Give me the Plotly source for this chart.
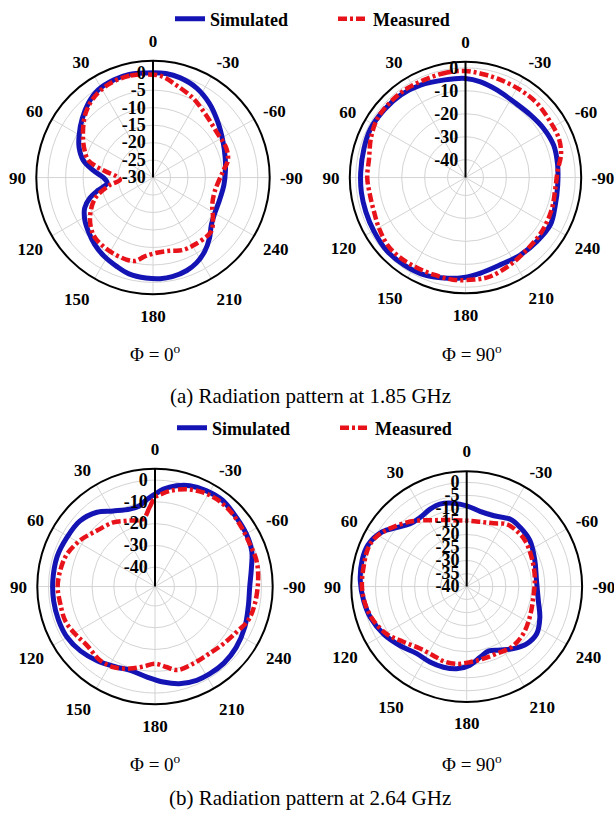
import plotly.graph_objects as go

W, H = 614, 816

# ---------------- data (theta in degrees CCW from top, gain in dB) ----------------
# (a) 1.85 GHz, Phi = 0
a0_sim_theta = [0, 13, 22, 32, 41, 50, 60, 68, 76, 83, 90, 97, 103, 108, 114, 122, 130, 139, 148, 158,
                166, 176, 184, 191, 200, 207, 215, 223, 231, 240, 251, 264, 275, 285, 297, 311, 323, 334, 345, 353]
a0_sim_db = [0.0, 0.3, 0.1, -0.4, -1.8, -3.6, -5.6, -7.2, -9.4, -12.7, -15.8, -16.8, -13.9, -11.0, -8.6, -7.0,
             -5.9, -4.6, -3.5, -2.5, -1.6, -1.2, -1.0, -1.1, -1.7, -2.6, -4.2, -6.3, -8.5, -9.6, -9.9, -9.6,
             -9.2, -8.6, -7.5, -5.5, -3.3, -1.5, -0.4, 0.0]
a0_mea_theta = [4, 13, 25, 37, 47, 57, 67, 75, 79, 83, 88, 94, 100, 110, 123, 134, 142, 152, 162, 168,
                174, 182, 193, 202, 212, 227, 236, 245, 257, 275, 283, 292, 306, 320, 333, 346, 355]
a0_mea_db = [-0.4, -0.1, -0.4, -1.6, -3.5, -6.1, -8.6, -10.8, -13.5, -16.6, -19.5, -20.5, -17.4, -12.3, -8.5,
             -6.3, -5.8, -5.5, -5.3, -5.6, -7.3, -8.4, -8.5, -7.6, -7.4, -7.3, -9.3, -11.3, -11.9, -9.9, -8.0,
             -7.4, -7.6, -6.5, -4.6, -2.7, -0.9]

# (a) 1.85 GHz, Phi = 90
a90_sim_theta = [0, 12, 26, 38, 50, 63, 74, 87, 98, 109, 120, 133, 145, 157, 170, 179, 189, 202, 215, 228,
                 241, 253, 265, 278, 290, 302, 314, 327, 340, 351]
a90_sim_db = [-4.6, -4.3, -3.0, -2.1, -1.7, -1.3, -1.8, -2.1, -2.0, -1.9, -1.6, -1.0, -1.3, -1.8, -3.3, -4.3,
              -5.7, -6.9, -6.5, -6.1, -5.5, -6.9, -7.5, -7.3, -6.9, -7.6, -8.5, -8.7, -7.3, -5.6]
a90_mea_theta = [0, 10, 21, 33, 45, 56, 67, 79, 90, 100, 110, 120, 131, 141, 152, 162, 173, 185, 194, 207,
                 220, 235, 250, 263, 274, 284, 293, 303, 316, 328, 342, 352]
a90_mea_db = [-1.4, -1.3, -1.6, -1.4, -1.4, -1.6, -3.1, -5.0, -5.0, -5.5, -5.3, -4.2, -2.9, -2.8, -3.2, -3.3,
              -3.0, -3.2, -3.4, -5.1, -6.5, -7.1, -7.8, -8.4, -7.6, -4.9, -3.7, -3.6, -2.9, -2.8, -2.5, -2.0]

# (b) 2.64 GHz, Phi = 0
b0_sim_theta = [0, 6, 11, 18, 29, 38, 49, 61, 73, 87, 98, 109, 120, 131, 142, 155, 163, 175, 185, 194,
                204, 212, 222, 233, 246, 258, 270, 281, 290, 300, 310, 322, 332, 341, 348, 355]
b0_sim_db = [-6.5, -9.1, -11.2, -11.5, -9.2, -5.6, -3.1, -2.6, -1.9, -1.9, -1.9, -2.0, -2.3, -3.7, -5.7, -8.0,
             -8.8, -7.2, -4.9, -2.9, -1.8, -1.6, -1.6, -2.3, -3.7, -5.1, -5.4, -3.8, -1.6, -0.5, 0.1, 1.4,
             1.0, 0.1, -1.6, -4.0]
b0_mea_theta = [0, 4, 10, 23, 33, 46, 58, 70, 80, 90, 100, 111, 121, 131, 143, 153, 163, 172, 180, 188,
                195, 206, 217, 229, 241, 250, 260, 273, 284, 294, 304, 315, 325, 333, 342, 351, 356]
b0_mea_db = [-8.0, -12.5, -17.4, -16.0, -13.8, -11.9, -8.6, -5.8, -4.8, -4.2, -4.7, -4.8, -6.3, -7.6, -6.7,
             -7.3, -9.5, -11.9, -13.5, -11.6, -9.2, -9.4, -9.4, -8.1, -6.0, -3.4, -2.4, -1.5, -0.8, -1.2,
             -0.8, 0.0, 0.2, -0.4, -1.9, -4.4, -6.3]

# (b) 2.64 GHz, Phi = 90
b90_sim_theta = [0, 9, 18, 25, 34, 42, 50, 57, 67, 76, 87, 98, 108, 120, 132, 143, 154, 164, 173, 182,
                 191, 199, 208, 217, 226, 236, 247, 259, 275, 291, 306, 318, 327, 339, 350]
b90_sim_db = [-9.0, -7.6, -6.7, -7.1, -8.0, -7.6, -4.8, -1.4, 1.1, 1.4, 0.9, -0.1, -1.2, -3.3, -5.9, -7.9,
              -7.8, -7.8, -8.2, -9.7, -12.5, -13.9, -12.4, -10.2, -8.2, -7.6, -9.5, -12.0, -13.1, -12.0,
              -10.0, -9.4, -9.2, -10.9, -10.7]
b90_mea_theta = [0, 14, 27, 35, 43, 53, 61, 68, 79, 90, 100, 110, 121, 131, 143, 154, 163, 173, 183, 193,
                 204, 217, 230, 244, 261, 278, 294, 308, 318, 327, 337, 348]
b90_mea_db = [-14.7, -13.7, -11.4, -9.0, -6.3, -3.0, -0.4, 0.6, 0.3, 0.2, -0.5, -1.9, -4.4, -7.7, -10.2,
              -10.6, -10.0, -10.1, -11.0, -11.6, -11.8, -11.1, -11.7, -13.1, -14.1, -13.6, -12.7, -11.5,
              -11.3, -11.5, -13.6, -14.6]

ang_vals = [0, 30, 60, 90, 120, 150, 180, 210, 240, 270, 300, 330]
ang_text = ["0", "30", "60", "90", "120", "150", "180", "210", "240", "-90", "-60", "-30"]

legend_names = ["Simulated", "Measured"]
captions_phi = ["\u03a6 = 0<sup>o</sup>", "\u03a6 = 90<sup>o</sup>"]
captions_main = ["(a) Radiation pattern at 1.85 GHz", "(b) Radiation pattern at 2.64 GHz"]

# ---------------- styling ----------------
BLUE = "#1414b4"
RED = "#e8121a"
SERIF = "Liberation Serif"

fig = go.Figure()


def closed(a):
    return list(a) + [a[0]]


panels = [
    ("polar", a0_sim_theta, a0_sim_db, a0_mea_theta, a0_mea_db, "legend", True),
    ("polar2", a90_sim_theta, a90_sim_db, a90_mea_theta, a90_mea_db, "legend", False),
    ("polar3", b0_sim_theta, b0_sim_db, b0_mea_theta, b0_mea_db, "legend2", True),
    ("polar4", b90_sim_theta, b90_sim_db, b90_mea_theta, b90_mea_db, "legend2", False),
]
for sp, st, sr, mt, mr, lg, show in panels:
    fig.add_trace(go.Scatterpolar(
        theta=closed(st), r=closed(sr), mode="lines", name=legend_names[0], subplot=sp,
        line=dict(color=BLUE, width=5, shape="spline", smoothing=1.0),
        showlegend=show, legend=lg))
    fig.add_trace(go.Scatterpolar(
        theta=closed(mt), r=closed(mr), mode="lines", name=legend_names[1], subplot=sp,
        line=dict(color=RED, width=4.5, dash="9px,3px,3px,3px", shape="spline", smoothing=1.0),
        showlegend=show, legend=lg))


def dom(cx, cy, r):
    return dict(x=[(cx - r) / W, (cx + r) / W], y=[1 - (cy + r) / H, 1 - (cy - r) / H])


def polar_layout(cx, cy, r, rng, rticks):
    return dict(
        domain=dom(cx, cy, r),
        bgcolor="white",
        angularaxis=dict(
            rotation=90, direction="counterclockwise",
            tickmode="array", tickvals=ang_vals, ticktext=ang_text,
            tickfont=dict(family=SERIF, size=17, color="black", weight="bold"),
            showline=True, linecolor="black", linewidth=2,
            showgrid=True, gridcolor="#d4d4d4", gridwidth=1,
            ticks="outside", ticklen=6, tickcolor="rgba(0,0,0,0)",
        ),
        radialaxis=dict(
            range=rng, angle=90, side="counterclockwise", tickangle=90,
            tickmode="array", tickvals=rticks, ticktext=[str(v) for v in rticks],
            tickfont=dict(family=SERIF, size=18, color="black", weight="bold"),
            showline=True, linecolor="black", linewidth=2,
            showgrid=True, gridcolor="#d4d4d4", gridwidth=1,
            ticks="",
        ),
    )


LEG_FONT = dict(family=SERIF, size=18, color="black", weight="bold")
fig.update_layout(
    width=W, height=H, margin=dict(l=0, r=0, t=0, b=0),
    paper_bgcolor="white", plot_bgcolor="white",
    polar=polar_layout(153, 176, 117, [-30, 3.4], [0, -5, -10, -15, -20, -25, -30]),
    polar2=polar_layout(465.5, 176, 116, [-47.8, 2.6], [0, -10, -20, -30, -40]),
    polar3=polar_layout(155, 586, 118, [-48.9, 5.15], [0, -10, -20, -30, -40]),
    polar4=polar_layout(466.7, 586, 115.7, [-40, 4.3], [0, -5, -10, -15, -20, -25, -30, -35, -40]),
    legend=dict(x=170 / W, y=1 - 17 / H, xanchor="left", yanchor="middle", orientation="h",
                font=LEG_FONT, bgcolor="rgba(0,0,0,0)", entrywidth=118, itemwidth=30),
    legend2=dict(x=172 / W, y=1 - 427 / H, xanchor="left", yanchor="middle", orientation="h",
                 font=LEG_FONT, bgcolor="rgba(0,0,0,0)", entrywidth=118, itemwidth=30),
)

ann = [
    (155 / W, 1 - 352 / H, captions_phi[0], 19),
    (472 / W, 1 - 352 / H, captions_phi[1], 19),
    (310 / W, 1 - 395 / H, captions_main[0], 21),
    (155 / W, 1 - 763 / H, captions_phi[0], 19),
    (472 / W, 1 - 763 / H, captions_phi[1], 19),
    (310 / W, 1 - 798 / H, captions_main[1], 21),
]
for x, y, t, s in ann:
    fig.add_annotation(x=x, y=y, xref="paper", yref="paper", text=t, showarrow=False,
                       xanchor="center", yanchor="middle",
                       font=dict(family=SERIF, size=s, color="black"))

fig.write_html("out.html")
